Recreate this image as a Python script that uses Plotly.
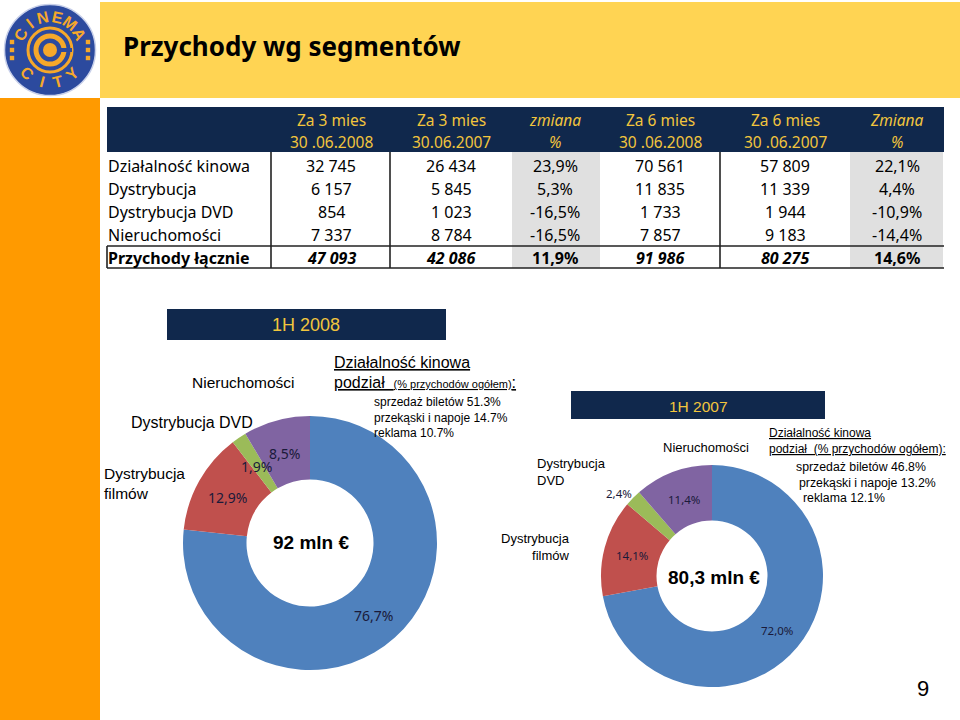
import numpy as np
import plotly.graph_objects as go

# ---------------- data ----------------
row_labels = ["Działalność kinowa", "Dystrybucja", "Dystrybucja DVD", "Nieruchomości", "Przychody łącznie"]
q3m_2008 = [32745, 6157, 854, 7337, 47093]
q3m_2007 = [26434, 5845, 1023, 8784, 42086]
q3m_change = [23.9, 5.3, -16.5, -16.5, 11.9]
h6m_2008 = [70561, 11835, 1733, 7857, 91986]
h6m_2007 = [57809, 11339, 1944, 9183, 80275]
h6m_change = [22.1, 4.4, -10.9, -14.4, 14.6]
header_line1 = ["Za 3 mies", "Za 3 mies", "zmiana", "Za 6 mies", "Za 6 mies", "Zmiana"]
header_line2 = ["30 .06.2008", "30.06.2007", "%", "30 .06.2008", "30 .06.2007", "%"]

pie_segments = ["Działalność kinowa", "Dystrybucja filmów", "Dystrybucja DVD", "Nieruchomości"]
share_1h2008 = [76.7, 12.9, 1.9, 8.5]
share_1h2007 = [72.0, 14.1, 2.4, 11.4]
seg_colors = ["#4F81BD", "#C0504D", "#9BBB59", "#8064A2"]

NAVY = "#10284C"
GOLD = "#F2C53D"
GRAY = "#E0E0E0"
YELLOW = "#FFD453"
ORANGE = "#FF9A00"
LOGO_OR = "#F6A82A"
CAL = "Noto Sans"
ARI = "Liberation Sans, Arial"


def fnum(v):
    return f"{v:,}".replace(",", " ")


def fpct(v):
    return f"{v:.1f}%".replace(".", ",")


def px_x(x):
    return x / 960


def px_y(y):
    return 1 - y / 720


fig = go.Figure()

for dom, vals in [((183, 437, 416, 670), share_1h2008), ((601, 823, 465, 687), share_1h2007)]:
    fig.add_trace(go.Pie(
        labels=pie_segments, values=vals, hole=0.5, sort=False, direction="clockwise",
        rotation=0, textinfo="none", hoverinfo="label+percent",
        marker=dict(colors=seg_colors, line=dict(width=0)),
        domain=dict(x=[px_x(dom[0]), px_x(dom[1])], y=[px_y(dom[3]), px_y(dom[2])]),
        showlegend=False,
    ))

shapes = []


def rect(x0, y0, x1, y1, color, layer="below"):
    shapes.append(dict(type="rect", xref="x", yref="y", x0=x0, y0=y0, x1=x1, y1=y1,
                       fillcolor=color, line=dict(width=0), layer=layer))


def seg(x0, y0, x1, y1, w=1.6, color="#222222"):
    shapes.append(dict(type="line", xref="x", yref="y", x0=x0, y0=y0, x1=x1, y1=y1,
                       line=dict(color=color, width=w), layer="above"))


def circ(r, fill=None, line_color=None, w=0, c=(50, 50)):
    shapes.append(dict(type="circle", xref="x", yref="y", x0=c[0] - r, y0=c[1] - r, x1=c[0] + r, y1=c[1] + r,
                       fillcolor=fill or "rgba(0,0,0,0)",
                       line=dict(color=line_color or "rgba(0,0,0,0)", width=w), layer="below"))


ann = []


def txt(x, y, s, size, color="black", family=ARI, xanchor="left", yanchor="middle", align="left", angle=0):
    ann.append(dict(x=x, y=y, xref="x", yref="y", text=s, showarrow=False, xanchor=xanchor,
                    yanchor=yanchor, align=align, textangle=angle,
                    font=dict(size=size, color=color, family=family)))


# background bands
rect(100, 2, 960, 98, YELLOW)
rect(0, 98, 100, 720, ORANGE)

# ---------------- table ----------------
col_x = [331, 451, 555, 660, 785, 897]
row_y = [166, 189, 212, 235, 258]
rect(107, 107, 944, 152, NAVY)
rect(512, 152, 600, 268, GRAY)
rect(850, 152, 943, 268, GRAY)
for j, cx_ in enumerate(col_x):
    italic = j in (2, 5)
    l1 = f"<i>{header_line1[j]}</i>" if italic else header_line1[j]
    l2 = f"<i>{header_line2[j]}</i>" if italic else header_line2[j]
    txt(cx_, 120, l1, 15.5, GOLD, CAL, "center")
    txt(cx_, 142, l2, 15.5, GOLD, CAL, "center")

columns = [(q3m_2008, "n"), (q3m_2007, "n"), (q3m_change, "p"), (h6m_2008, "n"), (h6m_2007, "n"), (h6m_change, "p")]
n_rows = len(row_labels)
for i in range(n_rows):
    last = i == n_rows - 1
    lab = f"<b>{row_labels[i]}</b>" if last else row_labels[i]
    txt(106, row_y[i], lab, 16, "black", CAL, "left")
    for j, (vals, kind) in enumerate(columns):
        s = fnum(vals[i]) if kind == "n" else fpct(vals[i])
        if last:
            s = f"<b><i>{s}</i></b>" if kind == "n" else f"<b>{s}</b>"
        txt(col_x[j], row_y[i], s, 16, "black", CAL, "center")

for xv in [271, 390, 720]:
    seg(xv, 152, xv, 268)
seg(107, 246, 944, 246)
seg(107, 268, 944, 268)
seg(107, 246, 107, 268)

# navy title boxes
rect(167, 309, 446, 340, NAVY, layer="above")
rect(571, 391, 825, 419, NAVY, layer="above")

# ---------------- logo ----------------
circ(45.5, "#2C4A9E", "#C8D0EA", 1.5)
circ(22, None, LOGO_OR, 3)
circ(14, None, LOGO_OR, 5)
circ(7, LOGO_OR)
shapes.append(dict(type="line", xref="x", yref="y", x0=60, y0=50, x1=72, y1=50,
                   line=dict(color="#2C4A9E", width=4), layer="below"))
for dx in [-38, 38]:
    for dy in [-8, 0, 8]:
        rect(50 + dx - 2.2, 50 + dy - 2.2, 50 + dx + 2.2, 50 + dy + 2.2, LOGO_OR)
for i, ch in enumerate("CINEMA"):
    a = -62 + i * 24.8
    ar = np.radians(a)
    txt(50 + 33 * np.sin(ar), 50 - 33 * np.cos(ar), f"<b>{ch}</b>", 16, LOGO_OR, ARI, "center", "middle", angle=a)
for i, ch in enumerate("CITY"):
    a = 224 - i * 29.3
    ar = np.radians(a)
    txt(50 + 33 * np.sin(ar), 50 - 33 * np.cos(ar), f"<b>{ch}</b>", 16, LOGO_OR, ARI, "center", "middle", angle=a - 180)

# title
txt(121, 46, "<b>Przychody wg segmentów</b>", 26, "black", CAL)

# box titles
txt(306, 325, "1H 2008", 18, GOLD, ARI, "center")
txt(698, 406, "1H 2007", 15.5, GOLD, ARI, "center")

# pie 1 category labels
txt(243, 382, "Nieruchomości", 15.5, "black", ARI, "center")
txt(192, 422, "Dystrybucja DVD", 16, "black", ARI, "center")
txt(102, 483, "Dystrybucja<br>filmów", 15.5, "black", ARI, "left")
txt(332, 362, "<u>Działalność kinowa</u>", 16, "black", ARI)
txt(332, 382, "<u>podział  <span style='font-size:11px'>(% przychodów ogółem)</span>:</u>", 16, "black", ARI)
txt(372, 417, "sprzedaż biletów 51.3%<br>przekąski i napoje 14.7%<br>reklama 10.7%", 12, "black", ARI)

# pie 1 value labels
pie1_lbl = [(373, 615), (227, 497), (256, 466), (284, 453)]
for (x, y), v in zip(pie1_lbl, share_1h2008):
    txt(x, y, fpct(v), 14, "#1A1A3A", CAL, "center")
txt(311, 542, "<b>92 mln €</b>", 19, "black", ARI, "center")

# pie 2 category labels
txt(706, 447, "Nieruchomości", 13, "black", ARI, "center")
txt(535, 472, "Dystrybucja<br>DVD", 13, "black", ARI, "left")
txt(572, 547, "Dystrybucja<br>filmów", 13, "black", ARI, "right", align="right")
txt(767, 433, "<u>Działalność kinowa</u>", 12, "black", ARI)
txt(767, 449, "<u>podział  (% przychodów ogółem):</u>", 12, "black", ARI)
txt(794, 467, "sprzedaż biletów 46.8%", 12.3, "black", ARI)
txt(797, 483, "przekąski i napoje 13.2%", 12.3, "black", ARI)
txt(801, 498, "reklama 12.1%", 12.3, "black", ARI)

pie2_lbl = [(777, 630), (632, 555), (619, 493), (684, 499)]
for (x, y), v in zip(pie2_lbl, share_1h2007):
    txt(x, y, fpct(v), 11.5, "#1A1A3A", CAL, "center")
txt(714, 577, "<b>80,3 mln €</b>", 19, "black", ARI, "center")

# page number
txt(923, 688, "9", 22, "black", ARI, "center")

fig.update_layout(
    width=960, height=720, margin=dict(l=0, r=0, t=0, b=0),
    paper_bgcolor="white", plot_bgcolor="white",
    xaxis=dict(range=[0, 960], visible=False, fixedrange=True, domain=[0, 1]),
    yaxis=dict(range=[720, 0], visible=False, fixedrange=True, domain=[0, 1]),
    shapes=shapes, annotations=ann, showlegend=False,
)

fig.write_html("out.html", config={"displayModeBar": False},
               post_script="document.body.style.margin='0';")
